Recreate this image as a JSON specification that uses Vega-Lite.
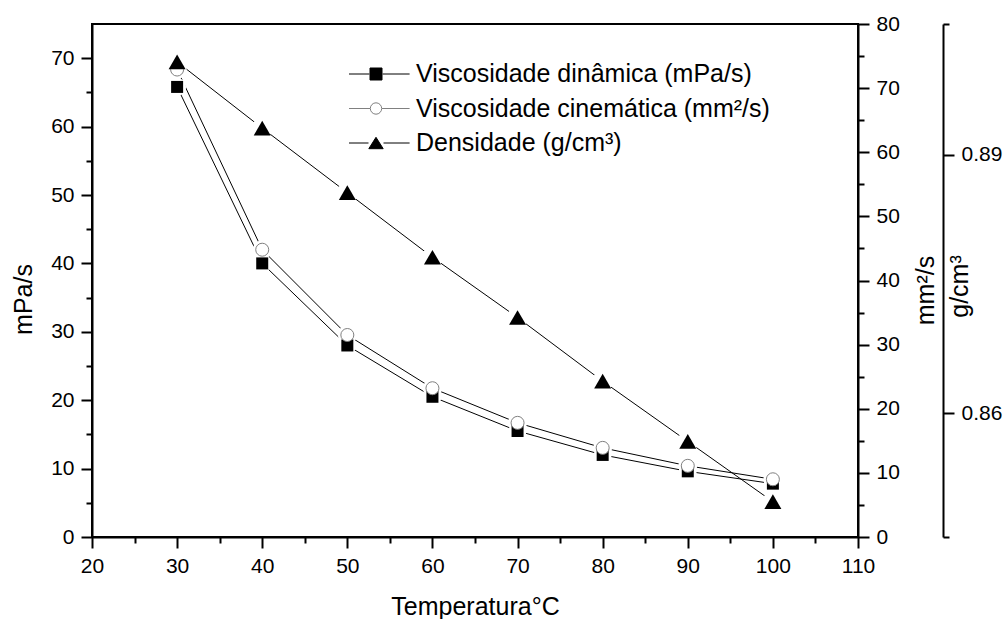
{
  "$schema": "https://vega.github.io/schema/vega-lite/v6.json",
  "width": 766,
  "height": 513,
  "autosize": "none",
  "padding": {"left": 92, "top": 24, "right": 147, "bottom": 82},
  "background": "white",
  "config": {
    "font": "Liberation Sans",
    "view": {"stroke": "black", "strokeWidth": 2},
    "axis": {
      "grid": false,
      "domainColor": "black",
      "domainWidth": 2,
      "tickColor": "black",
      "tickWidth": 2,
      "labelFont": "Liberation Sans",
      "labelFontSize": 21,
      "labelColor": "black",
      "labelPadding": 7,
      "labelFlush": false,
      "labelOverlap": false,
      "titleFont": "Liberation Sans",
      "titleFontSize": 25,
      "titleFontWeight": "normal",
      "titleColor": "black"
    }
  },
  "datasets": {
    "main": [
      {"T": 30, "din": 65.8, "cin": 72.9, "den": 0.9008},
      {"T": 40, "din": 40.0, "cin": 44.8, "den": 0.8931},
      {"T": 50, "din": 28.0, "cin": 31.5, "den": 0.8856},
      {"T": 60, "din": 20.5, "cin": 23.2, "den": 0.8781},
      {"T": 70, "din": 15.5, "cin": 17.8, "den": 0.8711},
      {"T": 80, "din": 12.0, "cin": 13.9, "den": 0.8637},
      {"T": 90, "din": 9.6, "cin": 11.1, "den": 0.8567},
      {"T": 100, "din": 7.8, "cin": 9.0, "den": 0.8497}
    ],
    "series": [
      {"s": "Viscosidade dinâmica (mPa/s)"},
      {"s": "Viscosidade cinemática (mm²/s)"},
      {"s": "Densidade (g/cm³)"}
    ]
  },
  "layer": [
    {
      "data": {"name": "main"},
      "mark": {"type": "line", "color": "black", "strokeWidth": 1},
      "encoding": {
        "x": {
          "field": "T", "type": "quantitative",
          "scale": {"domain": [20, 110], "nice": false, "zero": false},
          "axis": {
            "values": [20, 25, 30, 35, 40, 45, 50, 55, 60, 65, 70, 75, 80, 85, 90, 95, 100, 105, 110],
            "labelExpr": "datum.value % 10 === 0 ? datum.label : ''",
            "tickSize": {"condition": {"test": "datum.value % 10 === 0", "value": 11}, "value": 6},
            "title": "Temperatura°C",
            "titleX": 383,
            "titleY": 77,
            "titleBaseline": "alphabetic",
            "titleAlign": "center"
          }
        },
        "y": {
          "field": "din", "type": "quantitative",
          "scale": {"domain": [0, 75], "nice": false, "zero": false},
          "axis": {
            "orient": "left",
            "values": [0, 5, 10, 15, 20, 25, 30, 35, 40, 45, 50, 55, 60, 65, 70],
            "labelExpr": "datum.value % 10 === 0 ? datum.label : ''",
            "tickSize": {"condition": {"test": "datum.value % 10 === 0", "value": 11}, "value": 6},
            "title": "mPa/s",
            "titleAngle": 270,
            "titleX": -61,
            "titleY": 275,
            "titleBaseline": "alphabetic",
            "titleAlign": "center"
          }
        }
      }
    },
    {
      "data": {"name": "main"},
      "mark": {"type": "line", "color": "black", "strokeWidth": 1},
      "encoding": {
        "x": {"field": "T", "type": "quantitative", "scale": {"domain": [20, 110], "nice": false, "zero": false}},
        "y": {
          "field": "cin", "type": "quantitative",
          "scale": {"domain": [0, 80], "nice": false, "zero": false},
          "axis": {
            "orient": "right",
            "values": [0, 5, 10, 15, 20, 25, 30, 35, 40, 45, 50, 55, 60, 65, 70, 75, 80],
            "labelExpr": "datum.value % 10 === 0 ? datum.label : ''",
            "tickSize": {"condition": {"test": "datum.value % 10 === 0", "value": 11}, "value": 6},
            "title": "mm²/s",
            "titleAngle": 270,
            "titleX": 75,
            "titleY": 266,
            "titleBaseline": "alphabetic",
            "titleAlign": "center"
          }
        }
      }
    },
    {
      "data": {"name": "main"},
      "mark": {"type": "line", "color": "black", "strokeWidth": 1},
      "encoding": {
        "x": {"field": "T", "type": "quantitative", "scale": {"domain": [20, 110], "nice": false, "zero": false}},
        "y": {
          "field": "den", "type": "quantitative",
          "scale": {"domain": [0.8456, 0.9052], "nice": false, "zero": false},
          "axis": {
            "orient": "right",
            "offset": 85,
            "values": [0.8456, 0.86, 0.89, 0.9052],
            "labelExpr": "(abs(datum.value - 0.86) < 0.001 || abs(datum.value - 0.89) < 0.001) ? format(datum.value, '.2f') : ''",
            "tickSize": {"condition": {"test": "abs(datum.value - 0.86) < 0.001 || abs(datum.value - 0.89) < 0.001", "value": 11}, "value": 6},
            "title": "g/cm³",
            "titleAngle": 270,
            "titleX": 24,
            "titleY": 262,
            "titleBaseline": "alphabetic",
            "titleAlign": "center"
          }
        }
      }
    },
    {
      "data": {"name": "main"},
      "mark": {"type": "point", "shape": "circle", "filled": true, "color": "white", "opacity": 1, "size": 324, "strokeWidth": 0},
      "encoding": {
        "x": {"field": "T", "type": "quantitative", "scale": {"domain": [20, 110], "nice": false, "zero": false}},
        "y": {"field": "din", "type": "quantitative", "scale": {"domain": [0, 75], "nice": false, "zero": false}, "axis": null}
      }
    },
    {
      "data": {"name": "main"},
      "mark": {"type": "point", "shape": "circle", "filled": true, "color": "white", "opacity": 1, "size": 361, "strokeWidth": 0},
      "encoding": {
        "x": {"field": "T", "type": "quantitative", "scale": {"domain": [20, 110], "nice": false, "zero": false}},
        "y": {"field": "cin", "type": "quantitative", "scale": {"domain": [0, 80], "nice": false, "zero": false}, "axis": null}
      }
    },
    {
      "data": {"name": "main"},
      "mark": {"type": "point", "shape": "circle", "filled": true, "color": "white", "opacity": 1, "size": 441, "strokeWidth": 0},
      "encoding": {
        "x": {"field": "T", "type": "quantitative", "scale": {"domain": [20, 110], "nice": false, "zero": false}},
        "y": {"field": "den", "type": "quantitative", "scale": {"domain": [0.8456, 0.9052], "nice": false, "zero": false}, "axis": null}
      }
    },
    {
      "data": {"name": "main"},
      "mark": {"type": "point", "shape": "square", "filled": true, "color": "black", "opacity": 1, "size": 144},
      "encoding": {
        "x": {"field": "T", "type": "quantitative", "scale": {"domain": [20, 110], "nice": false, "zero": false}},
        "y": {"field": "din", "type": "quantitative", "scale": {"domain": [0, 75], "nice": false, "zero": false}, "axis": null}
      }
    },
    {
      "data": {"name": "main"},
      "mark": {"type": "point", "shape": "circle", "filled": true, "fill": "white", "stroke": "#808080", "strokeWidth": 1, "opacity": 1, "size": 169},
      "encoding": {
        "x": {"field": "T", "type": "quantitative", "scale": {"domain": [20, 110], "nice": false, "zero": false}},
        "y": {"field": "cin", "type": "quantitative", "scale": {"domain": [0, 80], "nice": false, "zero": false}, "axis": null}
      }
    },
    {
      "data": {"name": "main"},
      "mark": {"type": "point", "shape": "triangle-up", "filled": true, "color": "black", "opacity": 1, "size": 289},
      "encoding": {
        "x": {"field": "T", "type": "quantitative", "scale": {"domain": [20, 110], "nice": false, "zero": false}},
        "y": {"field": "den", "type": "quantitative", "scale": {"domain": [0.8456, 0.9052], "nice": false, "zero": false}, "axis": null}
      }
    },
    {
      "data": {"name": "series"},
      "mark": {"type": "point", "filled": true, "opacity": 0},
      "encoding": {
        "shape": {
          "field": "s", "type": "nominal",
          "scale": {
            "domain": ["Viscosidade dinâmica (mPa/s)", "Viscosidade cinemática (mm²/s)", "Densidade (g/cm³)"],
            "range": [
              "M-4.5,0H-1.1M1.1,0H5.6M-1,-1H1V1H-1Z",
              "M-4.5,0H-1M1,0H5.6M0.95,0A0.95,0.95,0,1,1,-0.95,0A0.95,0.95,0,1,1,0.95,0Z",
              "M-4.5,0H-1.25M1.25,0H5.6M0,-0.95L1.2,0.95L-1.2,0.95Z"
            ]
          },
          "legend": {
            "title": null,
            "orient": "none",
            "legendX": 271.5,
            "legendY": 37.5,
            "padding": 0,
            "labelFont": "Liberation Sans",
            "labelFontSize": 25,
            "labelColor": "black",
            "labelOffset": 27.5,
            "labelLimit": 800,
            "symbolSize": 144,
            "symbolStrokeWidth": 1,
            "symbolOpacity": 1,
            "rowPadding": 8.5
          }
        },
        "fill": {
          "field": "s", "type": "nominal",
          "scale": {
            "domain": ["Viscosidade dinâmica (mPa/s)", "Viscosidade cinemática (mm²/s)", "Densidade (g/cm³)"],
            "range": ["black", "white", "black"]
          },
          "legend": {"title": null}
        },
        "stroke": {
          "field": "s", "type": "nominal",
          "scale": {
            "domain": ["Viscosidade dinâmica (mPa/s)", "Viscosidade cinemática (mm²/s)", "Densidade (g/cm³)"],
            "range": ["black", "#808080", "black"]
          },
          "legend": {"title": null}
        }
      }
    }
  ],
  "resolve": {"scale": {"y": "independent"}, "axis": {"y": "independent"}}
}
